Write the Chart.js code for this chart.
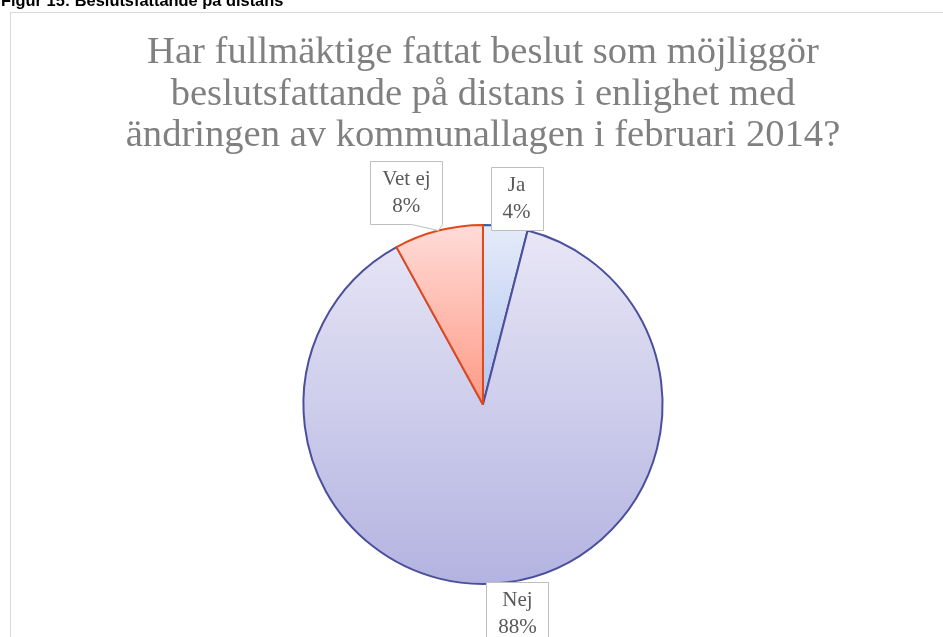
<!DOCTYPE html>
<html>
<head>
<meta charset="utf-8">
<script src="https://cdn.jsdelivr.net/npm/chart.js@4/dist/chart.umd.min.js"></script>
<style>
  html, body { margin: 0; padding: 0; background: #fff; }
  #wrap { position: relative; width: 943px; height: 637px; overflow: hidden; }
  #caption {
    position: absolute; left: 1px; top: -9px;
    font: bold 16.4px "Liberation Sans", Arial, sans-serif; line-height: 18px;
    color: #000; white-space: nowrap; z-index: 2;
  }
</style>
</head>
<body>
<div id="wrap">
  <div id="caption">Figur 15: Beslutsfattande på distans</div>
  <canvas id="chart"></canvas>
</div>
<script>
// data
const labels = ['Ja', 'Nej', 'Vet ej'];
const values = [4, 88, 8];
const titleLines = [
  'Har fullmäktige fattat beslut som möjliggör',
  'beslutsfattande på distans i enlighet med',
  'ändringen av kommunallagen i februari 2014?'
];

// gradient top -> bottom per slice, and border colours
const sliceColors = [
  { top: '#e5ebf9', bottom: '#b2c4ef', border: '#2f5f9c' },
  { top: '#e9e7f6', bottom: '#b3b3e1', border: '#4b4f9c' },
  { top: '#ffdcd8', bottom: '#ff9a86', border: '#e2491a' }
];
// label box offset from the slice's outer edge midpoint
const labelOffsets = [
  { dx: 11, dy: -28 },
  { dx: 12, dy: 31 },
  { dx: -32, dy: -38 }
];

const frame = {
  id: 'frame',
  beforeDraw(chart) {
    const ctx = chart.ctx;
    ctx.save();
    ctx.fillStyle = '#fff';
    ctx.fillRect(0, 0, chart.width, chart.height);
    ctx.strokeStyle = '#d9d9d9';
    ctx.lineWidth = 1;
    ctx.strokeRect(10.5, 12.5, chart.width + 20, chart.height + 20);
    ctx.restore();
  }
};

const calloutLabels = {
  id: 'calloutLabels',
  afterDatasetsDraw(chart) {
    const ctx = chart.ctx;
    const meta = chart.getDatasetMeta(0);
    const total = values.reduce((a, b) => a + b, 0);
    ctx.save();
    ctx.font = '21px "Liberation Serif", "Times New Roman", serif';
    ctx.textAlign = 'center';
    ctx.textBaseline = 'middle';
    meta.data.forEach((arc, i) => {
      const p = arc.getProps(['x', 'y', 'startAngle', 'endAngle', 'outerRadius'], true);
      const mid = (p.startAngle + p.endAngle) / 2;
      const ax = p.x + Math.cos(mid) * p.outerRadius;
      const ay = p.y + Math.sin(mid) * p.outerRadius;
      const lines = [labels[i], Math.round(values[i] / total * 100) + '%'];
      const w = Math.max(...lines.map(l => ctx.measureText(l).width)) + 24;
      const h = 63;
      const cx = ax + labelOffsets[i].dx;
      const cy = ay + labelOffsets[i].dy;
      const x0 = Math.round(cx - w / 2) + 0.5, y0 = Math.round(cy - h / 2) + 0.5;
      const x1 = x0 + Math.round(w), y1 = y0 + h;
      ctx.beginPath();
      ctx.moveTo(x0, y0);
      ctx.lineTo(x1, y0);
      ctx.lineTo(x1, y1);
      if (ay > y1 + 3) {
        // pointer down to the slice edge
        ctx.lineTo(ax, ay);
        ctx.lineTo(x1 - 31, y1);
      }
      ctx.lineTo(x0, y1);
      ctx.closePath();
      ctx.fillStyle = '#fff';
      ctx.fill();
      ctx.strokeStyle = '#bfbfbf';
      ctx.lineWidth = 1;
      ctx.stroke();
      ctx.fillStyle = '#595959';
      ctx.fillText(lines[0], cx, cy - 13);
      ctx.fillText(lines[1], cx, cy + 14);
    });
    ctx.restore();
  }
};

function sliceGradient(context) {
  const chart = context.chart;
  const area = chart.chartArea;
  const c = sliceColors[context.dataIndex];
  if (!area) return c.bottom;
  const cy = (area.top + area.bottom) / 2;
  const r = Math.min(area.right - area.left, area.bottom - area.top) / 2;
  const yEnd = context.dataIndex === 1 ? cy + r : cy;
  const g = chart.ctx.createLinearGradient(0, cy - r, 0, yEnd);
  g.addColorStop(0, c.top);
  g.addColorStop(1, c.bottom);
  return g;
}

new Chart(document.getElementById('chart'), {
  type: 'pie',
  data: {
    labels: labels,
    datasets: [{
      data: values,
      backgroundColor: sliceGradient,
      borderColor: sliceColors.map(c => c.border),
      borderWidth: 2
    }]
  },
  options: {
    responsive: true,
    maintainAspectRatio: false,
    animation: false,
    layout: { padding: { top: 12, left: 23, right: 0, bottom: 52 } },
    plugins: {
      legend: { display: false },
      tooltip: { enabled: false },
      title: {
        display: true,
        text: titleLines,
        color: '#808080',
        font: { family: '"Liberation Serif", "Times New Roman", serif', size: 38.6, weight: 'normal', lineHeight: 1.07 },
        padding: { top: 20.5, bottom: 67.5 }
      }
    }
  },
  plugins: [frame, calloutLabels]
});
</script>
</body>
</html>
